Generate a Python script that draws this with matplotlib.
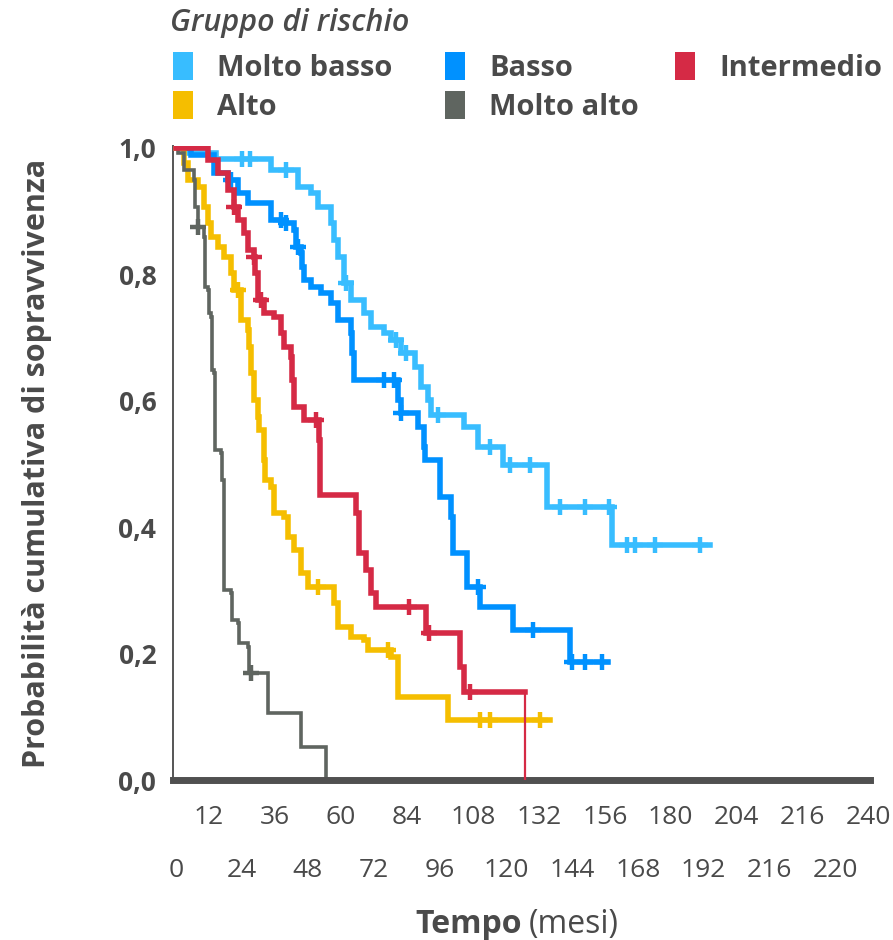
import numpy as np
import matplotlib as mpl
mpl.use('Agg')
from matplotlib import pyplot as plt
from matplotlib.patches import Rectangle

mpl.rcParams['font.family'] = ['Open Sans', 'DejaVu Sans']
txt = '#4a4a4a'

# Kaplan-Meier curves: step times (months), survival after each step
vb_t = [0, 4.4, 14.5, 34.5, 44.3, 49.0, 51.6, 56.3, 57.4, 58.8, 61.0, 63.5, 68.3, 70.8,
        75.5, 78.1, 81.7, 87.1, 89.0, 91.5, 92.6, 104.6, 110.0, 119.1, 135.1, 158.7]
vb_s = [1.0, 0.992, 0.983, 0.965, 0.938, 0.929, 0.907, 0.881, 0.854, 0.828, 0.786, 0.759,
        0.739, 0.717, 0.707, 0.696, 0.676, 0.653, 0.622, 0.601, 0.578, 0.559, 0.527, 0.498,
        0.432, 0.372]
vb_end = 194.3
vb_cens = [24.0, 27.0, 39.9, 61.7, 79.9, 83.5, 95.5, 114.4, 121.6, 128.9, 139.8, 148.9,
           157.6, 164.1, 167.0, 174.3, 190.6]

b_t = [0, 5.4, 13.8, 18.9, 22.5, 26.1, 34.5, 39.2, 42.8, 43.5, 45.4, 45.9, 46.5, 49.0,
       52.7, 56.3, 58.8, 63.5, 64.0, 64.6, 80.6, 81.7, 87.9, 90.1, 90.5, 96.2, 99.9, 100.9,
       106.0, 110.7, 122.7, 143.4]
b_s = [1.0, 0.989, 0.960, 0.949, 0.929, 0.913, 0.886, 0.881, 0.870, 0.843, 0.834, 0.812,
       0.791, 0.780, 0.771, 0.755, 0.728, 0.707, 0.676, 0.633, 0.601, 0.581, 0.559, 0.527,
       0.506, 0.448, 0.416, 0.359, 0.305, 0.274, 0.237, 0.187]
b_end = 157.2
b_cens = [20.0, 38.1, 40.0, 44.3, 75.5, 79.2, 81.7, 109.7, 130.0, 144.2, 148.9, 155.0]

i_t = [0, 11.6, 15.3, 18.9, 21.1, 22.5, 24.7, 26.1, 28.3, 28.8, 29.8, 32.0, 35.6, 38.1,
       39.2, 41.8, 42.3, 42.8, 46.5, 51.9, 52.4, 65.4, 66.4, 69.0, 70.8, 72.6, 90.8, 103.5,
       104.6]
i_s = [1.0, 0.981, 0.960, 0.934, 0.907, 0.886, 0.866, 0.839, 0.828, 0.802, 0.759, 0.739,
       0.733, 0.707, 0.685, 0.669, 0.633, 0.590, 0.570, 0.538, 0.451, 0.422, 0.359, 0.332,
       0.296, 0.274, 0.233, 0.179, 0.140]
i_end = 127.1
i_cens = [21.1, 28.3, 30.9, 50.8, 84.6, 91.9, 107.1]

a_t = [0, 2.9, 4.4, 8.0, 10.2, 11.6, 12.7, 15.3, 17.4, 20.0, 21.1, 23.6, 26.1, 26.5, 27.2,
       28.3, 29.8, 30.1, 32.0, 32.4, 34.5, 35.6, 39.2, 40.7, 42.8, 45.4, 47.9, 57.4, 58.8,
       63.5, 68.3, 69.7, 78.1, 80.6, 98.8]
a_s = [1.0, 0.976, 0.949, 0.938, 0.907, 0.881, 0.859, 0.843, 0.828, 0.802, 0.775, 0.728,
       0.712, 0.685, 0.644, 0.601, 0.574, 0.554, 0.506, 0.475, 0.464, 0.422, 0.416, 0.384,
       0.364, 0.328, 0.305, 0.280, 0.242, 0.226, 0.222, 0.206, 0.195, 0.131, 0.095]
a_end = 136.2
a_cens = [22.5, 51.6, 77.0, 110.7, 114.4, 132.5]

va_t = [0, 0.7, 2.9, 6.5, 6.9, 8.0, 10.2, 10.6, 11.6, 12.0, 12.7, 13.1, 13.8, 14.2, 16.3,
        16.7, 17.4, 20.0, 20.4, 22.5, 22.9, 26.1, 26.5, 33.4, 45.4, 54.5]
va_s = [1.0, 0.992, 0.965, 0.949, 0.907, 0.875, 0.859, 0.780, 0.775, 0.739, 0.733, 0.649,
        0.644, 0.522, 0.517, 0.475, 0.301, 0.296, 0.253, 0.248, 0.217, 0.210, 0.169, 0.106,
        0.052, 0.0]
va_end = 54.5
va_cens = [8.0, 27.2]

labels = ['Molto basso', 'Basso', 'Intermedio', 'Alto', 'Molto alto']
colors = ['#38bdff', '#0091ff', '#d52a45', '#f5be00', '#5f6560']

top_ticks = ['12', '36', '60', '84', '108', '132', '156', '180', '204', '216', '240']
bot_ticks = ['0', '24', '48', '72', '96', '120', '144', '168', '192', '216', '220']
y_ticks = ['0,0', '0,2', '0,4', '0,6', '0,8', '1,0']

W, H = 893, 940
fig = plt.figure(figsize=(W / 100, H / 100), dpi=100)
ax = fig.add_axes([173 / W, 1 - 780 / H, (870 - 173) / W, (780 - 146) / H])

series = [(vb_t, vb_s, vb_end, vb_cens), (b_t, b_s, b_end, b_cens),
          (i_t, i_s, i_end, i_cens), (a_t, a_s, a_end, a_cens),
          (va_t, va_s, va_end, va_cens)]
order = [0, 1, 3, 2, 4]
for k in order:
    t, s, end, cens = series[k]
    c = colors[k]
    lw = 2.6 if k == 4 else 4.0
    z = 3 + (k == 2)
    ax.step(list(t) + [end], list(s) + [s[-1]], where='post', color=c, lw=lw,
            solid_joinstyle='miter', zorder=z)
    idx = np.searchsorted(t, cens, side='right') - 1
    cy = np.array(s)[idx]
    ax.plot(cens, cy, ls='none', marker='+', ms=11, mew=3.2, color=c, zorder=z)
# Intermedio falls to zero at its last time
ax.vlines(i_end, 0, i_s[-1], color=colors[2], lw=1.6, zorder=6)

ax.set_xlim(-1.1, 252.5)
ax.set_ylim(0, 1.003)
ax.set_xticks(np.arange(0, 241, 24))
ax.set_xticklabels(bot_ticks)
ax.set_xticks(np.arange(12, 253, 24), minor=True)
ax.set_xticklabels(top_ticks, minor=True)
ax.tick_params(axis='x', which='major', length=0, pad=56, labelsize=19, labelcolor=txt)
ax.tick_params(axis='x', which='minor', length=0, pad=18, labelsize=19, labelcolor=txt)
ax.set_yticks(np.arange(0, 1.01, 0.2))
ax.set_yticklabels(y_ticks, fontweight='bold')
ax.tick_params(axis='y', length=0, pad=12, labelsize=19, labelcolor=txt)

for sp in ['top', 'right']:
    ax.spines[sp].set_visible(False)
ax.spines['left'].set_color('#555555')
ax.spines['left'].set_linewidth(1.4)
ax.spines['bottom'].set_color('#505050')
ax.spines['bottom'].set_linewidth(5)
ax.spines['bottom'].set_zorder(5)

fig.text(37 / W, 1 - 463 / H, 'Probabilità cumulativa di sopravvivenza', rotation=90,
         ha='center', va='center', fontsize=22, fontweight='bold', color=txt)
fig.text(522 / W, 1 - 933 / H, 'Tempo', ha='right', va='baseline', fontsize=23,
         fontweight='bold', color=txt)
fig.text(529 / W, 1 - 933 / H, '(mesi)', ha='left', va='baseline', fontsize=23, color=txt)

# legend
fig.text(170 / W, 1 - 31 / H, 'Gruppo di rischio', ha='left', va='baseline', fontsize=22,
         style='italic', fontweight='semibold', color=txt)
col_x = [173, 445, 675, 173, 445]
row_y = [66, 66, 66, 105, 105]
for k in range(5):
    x0, yc = col_x[k], row_y[k]
    fig.add_artist(Rectangle((x0 / W, 1 - (yc + 14) / H), 20 / W, 28 / H,
                             transform=fig.transFigure, color=colors[k], lw=0))
    fig.text((x0 + 44) / W, 1 - (yc + 10) / H, labels[k], ha='left', va='baseline',
             fontsize=21, fontweight='bold', color=txt)

plt.savefig('out.png', dpi=100)
